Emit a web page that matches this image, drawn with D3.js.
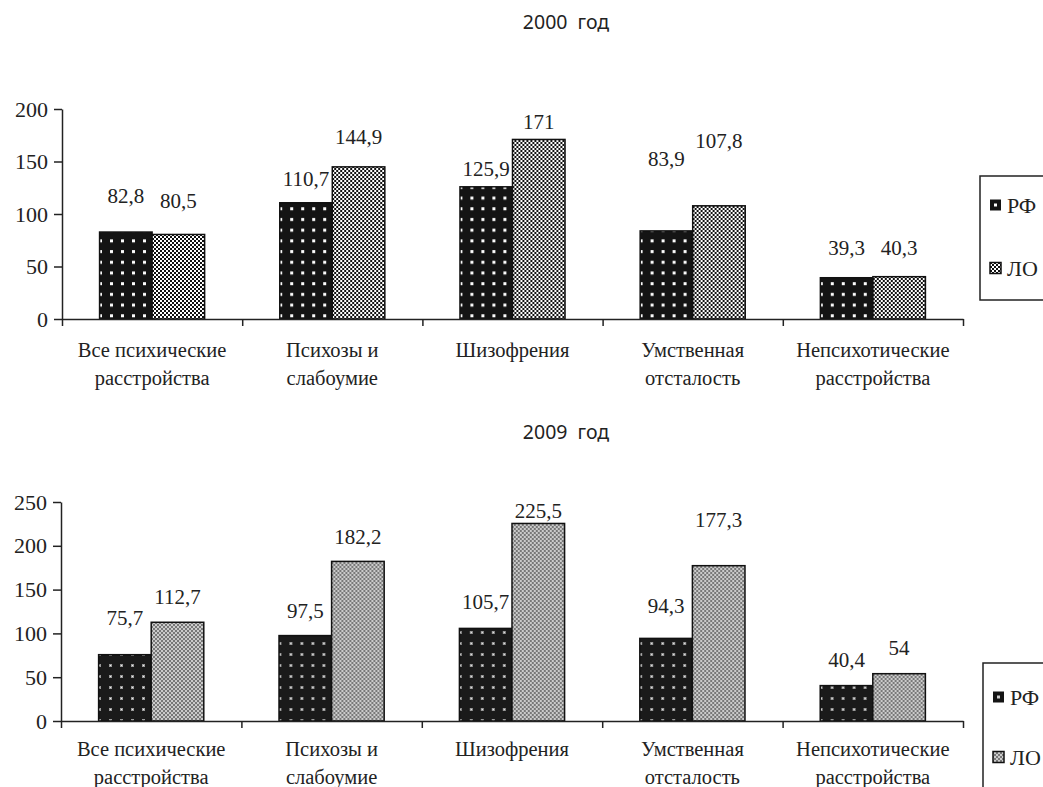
<!DOCTYPE html>
<html><head><meta charset="utf-8">
<script src="https://cdn.jsdelivr.net/npm/d3@7"></script>
<style>body{margin:0;background:#fff}svg{display:block}
.serif{font-family:"Liberation Serif","Tinos","DejaVu Serif",serif}
.sans{font-family:"Noto Sans","DejaVu Sans",sans-serif}
</style>
</head><body>
<script>
// ---- data ----
const categories = ["Все психические\nрасстройства","Психозы и\nслабоумие","Шизофрения","Умственная\nотсталость","Непсихотические\nрасстройства"];
const seriesNames = ["РФ","ЛО"];
const titles = ["2000  год","2009  год"];
const rf2000 = [82.8,110.7,125.9,83.9,39.3];
const lo2000 = [80.5,144.9,171,107.8,40.3];
const rf2009 = [75.7,97.5,105.7,94.3,40.4];
const lo2009 = [112.7,182.2,225.5,177.3,54];
const labels2000rf = ["82,8","110,7","125,9","83,9","39,3"];
const labels2000lo = ["80,5","144,9","171","107,8","40,3"];
const labels2009rf = ["75,7","97,5","105,7","94,3","40,4"];
const labels2009lo = ["112,7","182,2","225,5","177,3","54"];
const yTicks2000 = [0,50,100,150,200];
const yTicks2009 = [0,50,100,150,200,250];

// ---- layout (label lift above bar top, px) ----
const lift2000 = [[29,17,11,65,23],[26,23,10,58,22]];
const lift2009 = [[30,18,19,25,19],[18,17,5,39,19]];

const W=1043,H=787;
const svg=d3.select("body").append("svg").attr("width",W).attr("height",H);
const defs=svg.append("defs");

function pat(id,w,h,draw){
  const p=defs.append("pattern").attr("id",id).attr("patternUnits","userSpaceOnUse").attr("width",w).attr("height",h);
  draw(p);
}
pat("p1rf",11,10.7,p=>{p.append("rect").attr("width",11).attr("height",10.7).attr("fill","#141414");
  p.append("rect").attr("x",4).attr("y",4).attr("width",3).attr("height",3).attr("fill","#fff");});
pat("p1lo",4,4,p=>{p.append("rect").attr("width",4).attr("height",4).attr("fill","#fff");
  p.append("rect").attr("width",2).attr("height",2).attr("fill","#111");
  p.append("rect").attr("x",2).attr("y",2).attr("width",2).attr("height",2).attr("fill","#111");});
pat("p2rf",11,11,p=>{p.append("rect").attr("width",11).attr("height",11).attr("fill","#1a1a1a");
  p.append("rect").attr("x",4).attr("y",4).attr("width",3).attr("height",3).attr("fill","#999");
  p.append("rect").attr("x",5).attr("y",5).attr("width",1).attr("height",1).attr("fill","#eee");});
pat("p2lo",4,4,p=>{p.append("rect").attr("width",4).attr("height",4).attr("fill","#cbcbcb");
  p.append("rect").attr("width",2).attr("height",2).attr("fill","#787878");
  p.append("rect").attr("x",2).attr("y",2).attr("width",2).attr("height",2).attr("fill","#787878");});

const ink="#222";

const charts=[
  {title:titles[0],titleY:29,rf:rf2000,lo:lo2000,lrf:labels2000rf,llo:labels2000lo,lift:lift2000,ticks:yTicks2000,
   xl:62,xr:963,y0:319,yTop:109,catY:357,catDy:28,fills:["url(#p1rf)","url(#p1lo)"],
   legend:{x:980,y:176,w:80,h:124,items:[205,268]}},
  {title:titles[1],titleY:439,rf:rf2009,lo:lo2009,lrf:labels2009rf,llo:labels2009lo,lift:lift2009,ticks:yTicks2009,
   xl:61,xr:963,y0:721,yTop:502,catY:756,catDy:28,fills:["url(#p2rf)","url(#p2lo)"],
   legend:{x:983,y:663,w:80,h:200,items:[697,757]}}
];

charts.forEach((c,ci)=>{
  const g=svg.append("g");
  g.append("text").attr("class","sans").attr("x",566).attr("y",c.titleY).attr("text-anchor","middle")
   .attr("font-size",19.5).attr("fill",ink)
   .style("white-space","pre").text(c.title);

  const y=d3.scaleLinear().domain([0,d3.max(c.ticks)]).range([c.y0,c.yTop]);
  const x0=d3.scaleBand().domain(categories).range([c.xl,c.xr]).padding(0);
  const bw=x0.bandwidth();
  const x1=d3.scaleBand().domain(seriesNames).range([bw*0.2085,bw*0.7915]).padding(0);
  const xb=d3.scaleLinear().domain([0,categories.length]).range([c.xl,c.xr]);

  const rows=categories.map((cat,i)=>({cat,i,vals:[c.rf[i],c.lo[i]],labs:[c.lrf[i],c.llo[i]]}));
  const grp=g.selectAll("g.cat").data(rows).join("g").attr("class","cat")
    .attr("transform",d=>`translate(${x0(d.cat)},0)`);
  grp.selectAll("rect").data(d=>d.vals.map((v,k)=>({v,k}))).join("rect")
    .attr("x",d=>x1(seriesNames[d.k])).attr("width",x1.bandwidth())
    .attr("y",d=>y(d.v)).attr("height",d=>y(0)-y(d.v))
    .attr("fill",d=>c.fills[d.k]).attr("stroke","#111").attr("stroke-width",1.5);
  grp.selectAll("text.val").data(d=>d.vals.map((v,k)=>({v,k,lab:d.labs[k],i:d.i}))).join("text").attr("class","val serif")
    .attr("x",d=>x1(seriesNames[d.k])+x1.bandwidth()/2)
    .attr("y",d=>y(d.v)-c.lift[d.k][d.i])
    .attr("text-anchor","middle").attr("font-size",21).attr("fill",ink)
    .text(d=>d.lab);

  // y axis
  const ya=g.append("g").attr("transform",`translate(${c.xl},0)`)
    .call(d3.axisLeft(y).tickValues(c.ticks).tickSize(8).tickSizeOuter(0).tickPadding(6).tickFormat(d3.format("d")));
  ya.selectAll("path,line").attr("stroke",ink).attr("stroke-width",1.5);
  ya.selectAll("text").attr("class","serif").attr("font-size",22).attr("fill",ink);
  // x axis
  const xa=g.append("g").attr("transform",`translate(0,${c.y0})`)
    .call(d3.axisBottom(xb).tickValues(d3.range(categories.length+1)).tickSize(7).tickSizeOuter(0).tickFormat(""));
  xa.selectAll("path,line").attr("stroke",ink).attr("stroke-width",1.5);

  // category labels
  categories.forEach(cat=>{
    const lines=cat.split("\n");
    const t=g.append("text").attr("class","serif").attr("text-anchor","middle").attr("font-size",20.5).attr("fill",ink);
    lines.forEach((ln,li)=>t.append("tspan").attr("x",x0(cat)+bw/2).attr("y",c.catY+li*c.catDy).text(ln));
  });

  // legend
  const L=c.legend;
  g.append("rect").attr("x",L.x).attr("y",L.y).attr("width",L.w).attr("height",L.h)
    .attr("fill","#fff").attr("stroke",ink).attr("stroke-width",1.5);
  seriesNames.forEach((s,k)=>{
    const cy=L.items[k];
    const sx=L.x+10;
    if(k===0){
      g.append("rect").attr("x",sx).attr("y",cy-5.5).attr("width",11).attr("height",11).attr("fill","#141414");
      g.append("rect").attr("x",sx+4).attr("y",cy-1.5).attr("width",3).attr("height",3).attr("fill",ci===0?"#fff":"#ccc");
    } else {
      g.append("rect").attr("x",sx).attr("y",cy-5.5).attr("width",11).attr("height",11)
        .attr("fill",c.fills[1]).attr("stroke","#111").attr("stroke-width",1.5);
    }
    g.append("text").attr("class","serif").attr("x",sx+17).attr("y",cy+7.5).attr("font-size",22).attr("fill",ink).text(s);
  });
});
</script>
</body></html>
